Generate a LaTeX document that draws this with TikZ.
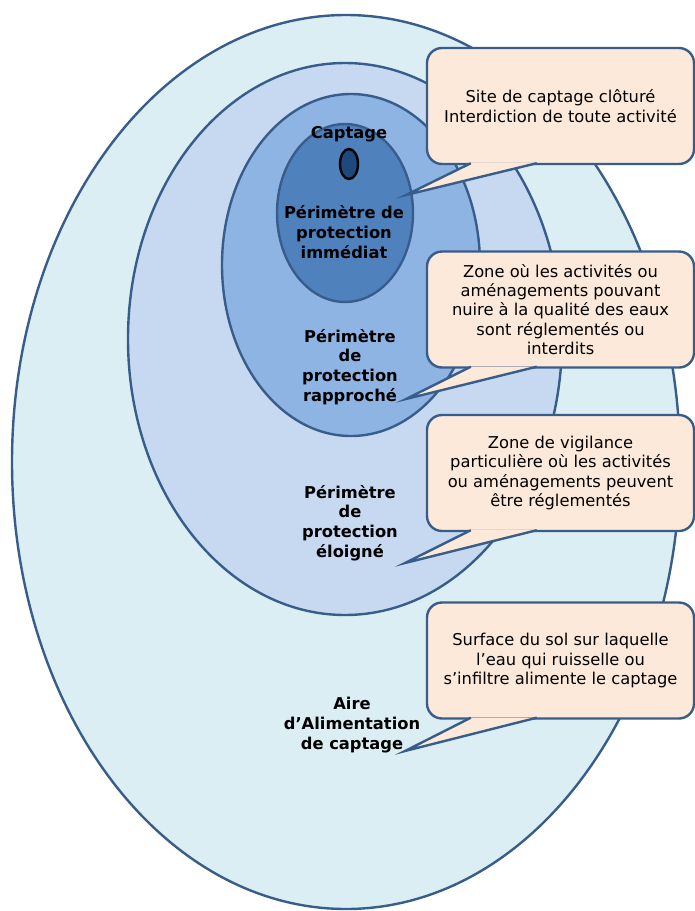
\documentclass[tikz,border=0pt]{standalone}
\usepackage{fontspec}
\setmainfont{DejaVu Sans}
\usetikzlibrary{calc}
\definecolor{rim}{HTML}{385D8A}
\definecolor{aacfill}{HTML}{DBEEF4}
\definecolor{ppefill}{HTML}{C6D9F1}
\definecolor{pprfill}{HTML}{8EB4E3}
\definecolor{ppifill}{HTML}{4F81BD}
\definecolor{wellfill}{HTML}{1F497D}
\definecolor{peach}{HTML}{FDE9D9}
\begin{document}
\begin{tikzpicture}[x=1pt, y=-1pt,
zone/.style={draw=rim, line width=2.4pt},
lbl/.style={font=\bfseries\fontsize{16.3}{19.7}\selectfont, align=center, inner sep=0pt},
bubble/.style={rectangle, rounded corners=15pt, draw=rim, line width=2.4pt, fill=peach, minimum width=267pt, minimum height=116pt, inner sep=0pt, align=center, font=\fontsize{16.3}{19.4}\selectfont},
tail/.style={draw=rim, line width=2.4pt, fill=peach, line join=miter}]
\useasboundingbox (0,0) rectangle (695,911);
\begin{scope}
\draw[zone, fill=aacfill] (346,462) ellipse [x radius=334, y radius=447];
\draw[zone, fill=ppefill] (345,339) ellipse [x radius=217, y radius=276];
\draw[zone, fill=pprfill] (351,265) ellipse [x radius=129, y radius=171];
\draw[zone, fill=ppifill] (345,213) ellipse [x radius=68, y radius=89];
\draw[draw=black, line width=2.4pt, fill=wellfill] (349,164) ellipse [x radius=9, y radius=15];
\end{scope}
\begin{scope}
\node[lbl] (captage) at (349,134) {Captage};
\node[lbl] (ppi) at (344,232) {Périmètre de\\protection\\immédiat};
\node[lbl] (ppr) at (350,367) {Périmètre\\de\\protection\\rapproché};
\node[lbl] (ppe) at (350,523) {Périmètre\\de\\protection\\éloigné};
\node[lbl] (aac) at (352,725) {Aire\\d’Alimentation\\de captage};
\end{scope}
\begin{scope}
\node[bubble] (b1) at (560.5,106) {Site de captage clôturé\\Interdiction de toute activité};
\node[bubble] (b2) at (560.5,309.5) {Zone où les activités ou\\aménagements pouvant\\nuire à la qualité des eaux\\sont réglementés ou\\interdits};
\node[bubble] (b3) at (560.5,473) {Zone de vigilance\\particulière où les activités\\ou aménagements peuvent\\être réglementés};
\node[bubble] (b4) at (560.5,660.5) {Surface du sol sur laquelle\\l’eau qui ruisselle ou\\s’infiltre alimente le captage};
\coordinate (t1) at (406,195);
\coordinate (t2) at (406,399);
\coordinate (t3) at (405,563);
\coordinate (t4) at (405,751);
%\coordinate (t) at (,);
\end{scope}
\begin{scope}
\draw[tail] ($(b1.south west)+(45,-2)$) -- (t1) -- ($(b1.south west)+(111,-2)$);
\draw[tail] ($(b2.south west)+(45,-2)$) -- (t2) -- ($(b2.south west)+(111,-2)$);
\draw[tail] ($(b3.south west)+(45,-2)$) -- (t3) -- ($(b3.south west)+(111,-2)$);
\draw[tail] ($(b4.south west)+(45,-2)$) -- (t4) -- ($(b4.south west)+(111,-2)$);
%\draw[tail] ($(b.south west)+(45,-2)$) -- (t) -- ($(b.south west)+(111,-2)$);
\end{scope}
\end{tikzpicture}
\end{document}
